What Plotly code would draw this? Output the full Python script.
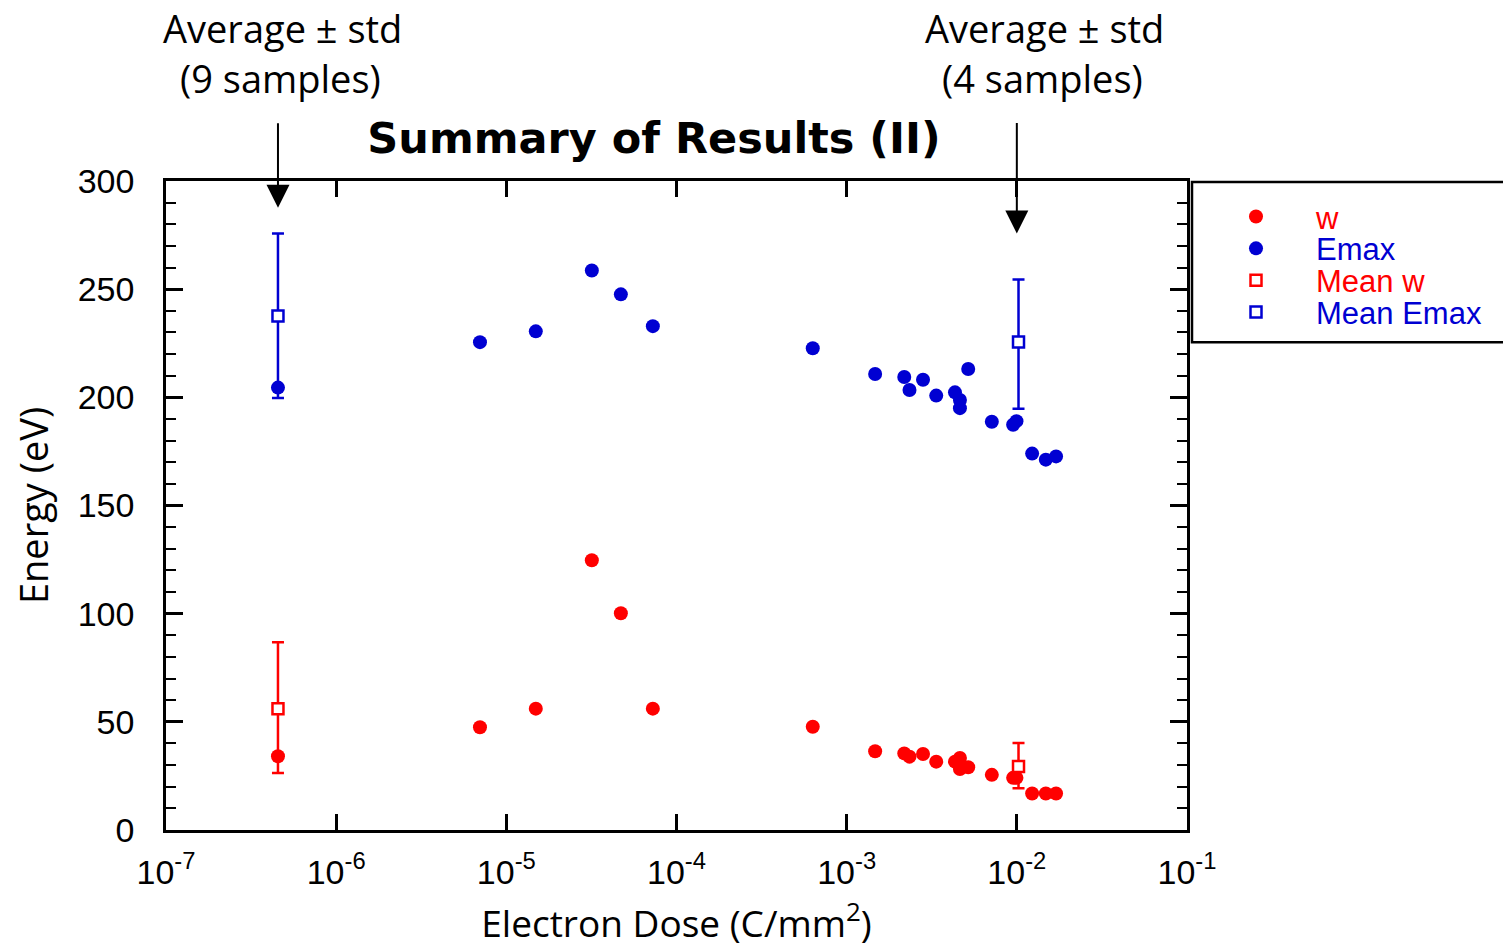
import math
import plotly.graph_objects as go

# ---- data ----
dose = [4.55e-7, 7.0e-6, 1.49e-5, 3.18e-5, 4.71e-5, 7.26e-5, 6.32e-4, 1.47e-3,
        2.18e-3, 2.34e-3, 2.81e-3, 3.36e-3, 4.33e-3, 4.63e-3, 4.63e-3, 5.18e-3,
        7.13e-3, 9.51e-3, 9.95e-3, 1.23e-2, 1.48e-2, 1.70e-2]
emax = [204.5, 225.5, 230.5, 258.6, 247.6, 232.9, 222.7, 210.8,
        209.4, 203.4, 208.1, 200.8, 202.3, 198.8, 195.0, 213.1,
        188.7, 187.3, 189.0, 174.0, 171.2, 172.7]
w = [34.1, 47.5, 56.1, 124.7, 100.2, 56.1, 47.7, 36.4,
     35.4, 33.9, 35.1, 31.6, 31.6, 33.3, 28.2, 29.0,
     25.5, 24.1, 24.1, 16.9, 16.9, 16.9]

mean_dose = [4.55e-7, 1.023e-2]
mean_w = [56.1, 29.3]
mean_w_plus = [30.7, 10.9]
mean_w_minus = [29.7, 10.0]
mean_emax = [237.6, 225.6]
mean_emax_plus = [38.1, 28.9]
mean_emax_minus = [37.9, 30.9]

x_tickvals = [1e-7, 1e-6, 1e-5, 1e-4, 1e-3, 1e-2, 1e-1]
x_ticktext = ["10<sup>-7</sup>", "10<sup>-6</sup>", "10<sup>-5</sup>", "10<sup>-4</sup>",
              "10<sup>-3</sup>", "10<sup>-2</sup>", "10<sup>-1</sup>"]
y_tickvals = [0, 50, 100, 150, 200, 250, 300]

RED = "#ff0000"
BLUE = "#0000d2"
TXT_FONT = "Open Sans, Lato, sans-serif"
TITLE_FONT = "DejaVu Sans, sans-serif"
NUM_FONT = "Liberation Sans, Arial, sans-serif"

fig = go.Figure()
fig.add_trace(go.Scatter(x=dose, y=w, mode="markers", legend="legend",
                         name='<span style="color:#ff0000">w</span>',
                         marker=dict(symbol="circle", size=14, color=RED)))
fig.add_trace(go.Scatter(x=dose, y=emax, mode="markers", legend="legend2",
                         name='<span style="color:#0000d2">Emax</span>',
                         marker=dict(symbol="circle", size=14, color=BLUE)))
fig.add_trace(go.Scatter(x=mean_dose, y=mean_w, mode="markers", legend="legend3",
                         name='<span style="color:#ff0000">Mean w</span>',
                         marker=dict(symbol="square", size=11, color="white",
                                     line=dict(color=RED, width=2.5)),
                         error_y=dict(type="data", array=mean_w_plus, arrayminus=mean_w_minus,
                                      color=RED, thickness=2.5, width=6)))
fig.add_trace(go.Scatter(x=mean_dose, y=mean_emax, mode="markers", legend="legend4",
                         name='<span style="color:#0000d2">Mean Emax</span>',
                         marker=dict(symbol="square", size=11, color="white",
                                     line=dict(color=BLUE, width=2.5)),
                         error_y=dict(type="data", array=mean_emax_plus, arrayminus=mean_emax_minus,
                                      color=BLUE, thickness=2.5, width=6)))

L, R, T, B = 166, 1187, 181, 833
W, H = 1503, 950


def px(xp):
    return (xp - L) / (R - L)


def py(yp):
    return (B - yp) / (B - T)


annotations = []
for cx, t1, t2 in [(282, "Average ± std", "(9 samples)"), (1044, "Average ± std", "(4 samples)")]:
    annotations.append(dict(text=t1, x=px(cx), y=py(27), xref="paper", yref="paper",
                            showarrow=False, xanchor="center", yanchor="middle",
                            font=dict(family=TXT_FONT, size=38, color="black")))
    annotations.append(dict(text=t2, x=px(cx - 2), y=py(78), xref="paper", yref="paper",
                            showarrow=False, xanchor="center", yanchor="middle",
                            font=dict(family=TXT_FONT, size=38, color="black")))

# arrows pointing to the mean points
annotations.append(dict(text="", x=math.log10(mean_dose[0]), y=287.6, xref="x", yref="y",
                        showarrow=True, ax=0, ay=-86, arrowhead=2, arrowsize=2.3,
                        arrowwidth=2, arrowcolor="black"))
annotations.append(dict(text="", x=-2.0, y=275.7, xref="x", yref="y",
                        showarrow=True, ax=0, ay=-112, arrowhead=2, arrowsize=2.3,
                        arrowwidth=2, arrowcolor="black"))

shapes = [dict(type="rect", xref="paper", yref="paper",
               x0=px(1192), x1=px(1520), y0=py(343), y1=py(182),
               line=dict(color="black", width=2.5), fillcolor="rgba(0,0,0,0)")]


def leg(row_y):
    return dict(x=px(1196), y=py(row_y), xanchor="left", yanchor="middle",
                bgcolor="rgba(0,0,0,0)", borderwidth=0, itemwidth=110,
                font=dict(family=NUM_FONT, size=31, color="black"))


fig.update_layout(
    width=W, height=H,
    margin=dict(l=L, r=W - R, t=T, b=H - B, pad=0),
    paper_bgcolor="white", plot_bgcolor="white",
    title=dict(text="<b>Summary of Results (II)</b>", x=(654) / W, xref="container",
               y=1 - 138 / H, yref="container", xanchor="center", yanchor="middle",
               font=dict(family=TITLE_FONT, size=43, color="black")),
    showlegend=True,
    legend=leg(217), legend2=leg(249), legend3=leg(281), legend4=leg(313),
    annotations=annotations,
    shapes=shapes,
    xaxis=dict(type="log", range=[-7, -1], tickvals=x_tickvals, ticktext=x_ticktext,
               ticks="inside", ticklen=16, tickwidth=2.5, tickcolor="black",
               showline=True, linewidth=2.5, linecolor="black", mirror="ticks",
               showgrid=False, zeroline=False, ticklabelstandoff=10,
               tickfont=dict(family=NUM_FONT, size=34, color="black"),
               title=dict(text="Electron Dose (C/mm<sup>2</sup>)", standoff=22,
                          font=dict(family=TXT_FONT, size=37, color="black"))),
    yaxis=dict(range=[0, 300], tickvals=y_tickvals,
               ticks="inside", ticklen=17, tickwidth=2.5, tickcolor="black",
               minor=dict(dtick=10, ticks="inside", ticklen=10, tickwidth=2, tickcolor="black"),
               showline=True, linewidth=2.5, linecolor="black", mirror="ticks",
               showgrid=False, zeroline=False, ticklabelstandoff=22,
               tickfont=dict(family=NUM_FONT, size=34, color="black"),
               title=dict(text="Energy (eV)", standoff=18,
                          font=dict(family=TXT_FONT, size=38, color="black"))),
)

fig.write_html("out.html")
